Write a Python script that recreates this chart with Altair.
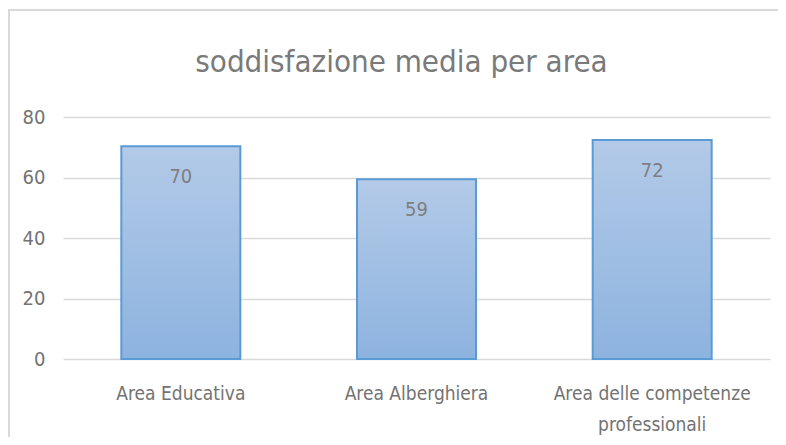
import altair as alt
import pandas as pd

categories = ["Area Educativa", "Area Alberghiera", "Area delle competenze professionali"]
values = [70.3, 59.4, 72.4]
labels = ["70", "59", "72"]
y_ticks = [0, 20, 40, 60, 80]

df = pd.DataFrame({"area": categories, "value": values, "label": labels})

FONT = "Liberation Sans Narrow, DejaVu Sans Condensed, Liberation Sans, sans-serif"
GRID = "#d9d9d9"

x_enc = alt.X(
    "area:N",
    sort=categories,
    scale=alt.Scale(paddingInner=0.495, paddingOuter=0.2475),
    axis=alt.Axis(
        title=None,
        labelAngle=0,
        domain=False,
        ticks=False,
        labelFont=FONT,
        labelFontSize=19,
        labelColor="#737373",
        labelPadding=25,
        labelBaseline="top",
        labelLineHeight=31,
        labelLimit=400,
        labelExpr="datum.value == 'Area delle competenze professionali' ? ['Area delle competenze', 'professionali'] : datum.value",
    ),
)
y_enc = alt.Y(
    "value:Q",
    scale=alt.Scale(domain=[0, 80], nice=False),
    axis=alt.Axis(
        title=None,
        values=y_ticks,
        domain=False,
        ticks=False,
        grid=True,
        gridColor=GRID,
        gridWidth=1.5,
        labelFont=FONT,
        labelFontSize=20,
        labelColor="#737373",
        labelPadding=18,
    ),
)

border = alt.Chart(df).mark_rect(
    fillOpacity=0, stroke=GRID, strokeWidth=1.5, clip=False
).encode(
    x=alt.value(-54), x2=alt.value(800), y=alt.value(-107), y2=alt.value(600)
)

bars = alt.Chart(df).mark_bar(
    color=alt.Gradient(
        gradient="linear",
        stops=[
            alt.GradientStop(color="#b3cae8", offset=0),
            alt.GradientStop(color="#8db3df", offset=1),
        ],
        x1=0, x2=0, y1=0, y2=1,
    ),
    stroke="#5b9bd5",
    strokeWidth=2,
).encode(x=x_enc, y=y_enc)

text = alt.Chart(df).mark_text(
    font=FONT, fontSize=20, color="#7f7f7f", baseline="middle", dy=31
).encode(x=alt.X("area:N", sort=categories), y="value:Q", text="label:N")

chart = alt.layer(border, bars, text).properties(
    width=707,
    height=242,
    autosize=alt.AutoSizeParams(type="none"),
    padding={"left": 55, "top": 109, "right": 8, "bottom": 78},
    title=alt.TitleParams(
        "soddisfazione media per area",
        font=FONT,
        fontSize=31,
        fontWeight="normal",
        color="#7a7a7a",
        anchor="middle",
        baseline="alphabetic",
        frame="group",
        offset=-94,
        dx=-15,
    ),
).configure_view(stroke=None)

chart.save("out.html", embed_options={"renderer": "svg", "actions": False})
